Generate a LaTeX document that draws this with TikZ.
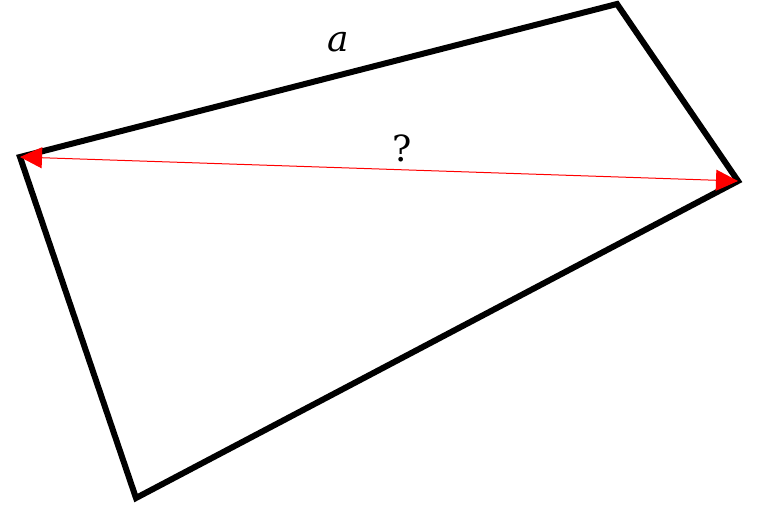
\documentclass[tikz,border=0pt]{standalone}
\usepackage{fontspec}
\setmainfont{DejaVu Serif}
\usetikzlibrary{arrows.meta}
\begin{document}
\begin{tikzpicture}[x=1pt,y=-1pt,
  edge/.style={line width=6pt,line join=miter,black},
  diag/.style={red,line width=1pt,{Triangle[length=22pt,width=21pt]}-{Triangle[length=22pt,width=21pt]}},
  lbl/.style={inner sep=0pt,font=\fontsize{36}{40}\selectfont}]
\useasboundingbox (0,0) rectangle (760,505);
\coordinate (A) at (20,157);
\coordinate (B) at (617,4);
\coordinate (C) at (738,181);
\coordinate (D) at (136,498);
\draw[edge] (A) -- (B) -- (C) -- (D) -- cycle;
\draw[diag] (A) -- (C);
\node[lbl] (la) at (338,42) {\itshape a};
\node[lbl] (lq) at (402,148) {?};
\end{tikzpicture}
\end{document}
